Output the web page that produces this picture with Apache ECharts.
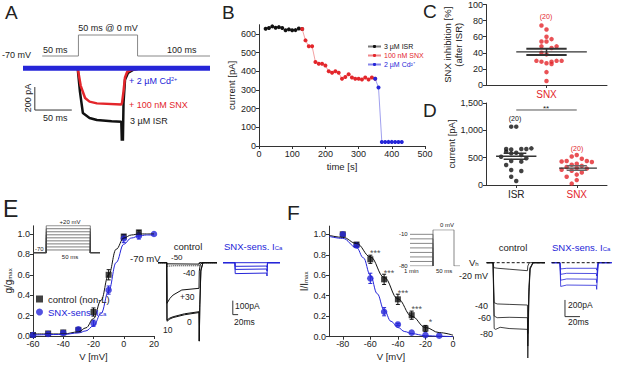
<!DOCTYPE html>
<html>
<head>
<meta charset="utf-8">
<script src="https://cdn.jsdelivr.net/npm/echarts@6/dist/echarts.min.js"></script>
<style>html,body{margin:0;padding:0;background:#fff}#main{width:617px;height:365px}</style>
</head>
<body>
<div id="main"></div>
<script>
var FONT = 'Arial, "Liberation Sans", sans-serif';
var BLUE = '#2525d8', RED = '#e3262b', DARK = '#222';

// ---- A: protocol + example traces (time in ms, current in pA)
var aProtoT = [26, 75, 75, 155, 155, 253];
var aProtoV = [-70, -70, 0, 0, -70, -70];
var aIsr = [[0,0],[74,0],[77,-200],[81,-389],[90,-432],[100,-450],[120,-460],[133,-465],[134,-700],[135,-700],[136,-300],[138,-100],[142,-40],[150,-10],[160,0],[253,0]];
var aSnx = [[0,0],[74,0],[78,-150],[84,-258],[90,-290],[100,-305],[133,-315],[134,-300],[136,-200],[138,-80],[141,-30],[148,-10],[160,0],[253,0]];
var aCd = [[0,0],[253,0]];
var aScale = [[16,-163],[16,-363],[66,-363]];

// ---- B: time course
var bTime = [20,30,40,50,60,70,80,90,100,110,120,130,140,150,160,170,180,190,200,210,220,230,240,250,260,270,280,290,300,310,320,330,340,350,360,370,380,390,400,410,420,430];
var bCurrent = [628,632,641,634,637,632,620,625,620,621,630,627,566,534,534,450,441,441,431,400,392,400,392,360,370,385,367,360,360,356,367,356,367,360,313,21,21,22,22,21,21,21];
var bNames = ['3 µM ISR', '100 nM SNX', '2 µM Cd²⁺'];

// ---- C: SNX inhibition (%)
var cJitter = [-1,0,0,1,-1,0,-1,2,1,-1,0,-2,-1,1,3,2,0,1,0,0];
var cValues = [74,69,60,57,54,54,48,48,46,40,38,30,29,29,30,30,27,26,16,5];
var cMean = 41.2, cSem = 3.8;

// ---- D: current amplitude (pA)
var dIsrJitter = [-1,0,-2,-1,1,2,3,-2,-1,0,1,-3,2,-1,1,-2,-1,1,-1,0];
var dIsrValues = [1067,1067,658,650,658,658,670,610,579,590,549,518,488,439,427,366,274,256,152,73];
var dSnxJitter = [12,11,13,10,14,9,15,12,11,13,10,12,14,9,11,13,12,10,12,11];
var dSnxValues = [549,520,480,440,440,430,420,390,370,350,330,310,300,280,260,230,190,150,90,25];
var dIsrMean = 526, dIsrSem = 55, dSnxMean = 310, dSnxSem = 40;

// ---- E: activation
var eV = [-60,-50,-40,-30,-20,-10,0,10,20];
var eCtrl = [0.01,0.025,0.035,0.06,0.235,0.60,0.975,1.015,null];
var eCtrlErr = [0,0,0,0,0.04,0.05,0.02,0.02,0];
var eSnx = [0.01,0.02,0.03,0.066,0.125,0.45,0.955,0.98,1.0];
var eSnxErr = [0,0,0,0.01,0.03,0.04,0.04,0.03,0];
var eFitV = [-60,-40,-30,-25,-20,-15,-10,-5,0,5,10,15,20];
var eFitCtrl = [0.02,0.02,0.04,0.08,0.17,0.35,0.60,0.85,0.96,0.99,1.0,1.0,1.0];
var eFitSnx = [0.01,0.015,0.03,0.05,0.10,0.22,0.44,0.72,0.90,0.96,0.98,0.99,0.99];
var eSteps = [-60,-50,-40,-30,-20,-10,0,10,20];
var eCtrlTraces = [
  [[0,0],[33,0],[34,-8],[155,-10],[156,0],[223,0]],
  [[0,0],[33,0],[34,-25],[60,-22],[155,-22],[157,0],[223,0]],
  [[0,0],[33,0],[34,-290],[45,-255],[57,-231],[90,-195],[155,-183],[156,-60],[160,-10],[170,0],[223,0]],
  [[0,0],[33,0],[34,-409],[45,-395],[57,-386],[100,-365],[155,-350],[156,-560],[158,-300],[162,-50],[170,0],[223,0]],
  [[0,0],[33,0],[34,-418],[45,-402],[57,-392],[100,-372],[155,-356],[156,-560],[158,-320],[162,-60],[170,0],[223,0]]
];
var eSnxTraces = [
  [[0,0],[215,0]],
  [[0,0],[45,0],[46,-26],[165,-24],[166,-32],[168,0],[215,0]],
  [[0,0],[45,0],[46,-48],[165,-45],[166,-60],[168,0],[215,0]],
  [[0,0],[45,0],[46,-78],[165,-74],[166,-95],[168,0],[215,0]]
];
var eScale = [[37,-271],[37,-371],[57,-371]];

// ---- F: inactivation
var fV = [-80,-70,-60,-50,-40,-30,-20,-10];
var fCtrl = [1.0,0.90,0.756,0.56,0.365,0.21,0.08,null];
var fCtrlErr = [0,0.02,0.04,0.05,0.05,0.04,0.03,0];
var fSnx = [1.0,0.89,0.57,0.244,0.12,0.04,0.016,0.01];
var fSnxErr = [0,0.02,0.05,0.04,0.01,0,0,0];
var fStars = ['','','***','***','***','***','*',''];
var fFitV = [-90,-80,-70,-60,-50,-40,-30,-20,-10,0];
var fFitCtrl = [0.99,0.97,0.91,0.78,0.58,0.37,0.20,0.09,0.04,0.015];
var fFitSnxV = [-90,-80,-70,-65,-60,-55,-50,-45,-40,-35,-30,-20,-10,0];
var fFitSnx = [0.98,0.96,0.87,0.77,0.60,0.42,0.26,0.15,0.09,0.05,0.03,0.01,0.005,0.0];
var fSteps = [-80,-70,-60,-50,-40,-30,-20,-10];
var fCtrlTraces = [
  [[0,0],[8.5,0],[9.5,-60],[15,-67],[30,-78],[54.5,-96],[55,-40],[57,0],[78,0]],
  [[0,0],[8.5,0],[10,-480],[14,-495],[30,-500],[54.5,-508],[55,-850],[56.5,-300],[58,-60],[62,0],[78,0]],
  [[0,0],[8.5,0],[10,-640],[14,-660],[30,-655],[54.5,-660],[55,-1000],[56.5,-350],[58,-70],[62,0],[78,0]],
  [[0,0],[8.5,0],[10,-790],[12,-800],[18,-775],[30,-790],[54.5,-800],[55,-1160],[56.5,-400],[58,-80],[62,0],[78,0]]
];
var fSnxTraces = [
  [[0,0],[11,0],[12,-75],[20,-67],[59.5,-67],[60,-90],[62,0],[80,0]],
  [[0,0],[11,0],[12,-140],[20,-127],[59.5,-130],[60,-160],[62,0],[80,0]],
  [[0,0],[11,0],[12,-210],[20,-195],[59.5,-198],[60,-240],[62,0],[80,0]],
  [[0,0],[11,0],[12,-285],[20,-268],[59.5,-272],[60,-320],[62,0],[80,0]]
];
var fScale = [[17.7,-447],[17.7,-647],[37.7,-647]];

var myChart = echarts.init(document.getElementById('main'), null, {renderer: 'svg'});

var axisLine = {onZero: false, lineStyle: {color: '#333', width: 1}};
var axisTick = {length: 3, lineStyle: {color: '#333'}};
var labelStyle = {fontSize: 9, color: DARK, fontFamily: FONT, margin: 3};

function hidden(grid, min, max) {
  return {type: 'value', gridIndex: grid, min: min, max: max, show: false};
}
function valAxis(grid, o) {
  var a = {type: 'value', gridIndex: grid, min: o.min, max: o.max, interval: o.interval,
    axisLine: axisLine, splitLine: {show: false},
    axisTick: Object.assign({}, axisTick, o.ticks ? {customValues: o.ticks} : {}),
    axisLabel: Object.assign({}, labelStyle, o.label || {}, o.ticks ? {customValues: o.ticks} : {}),
    name: o.name, nameLocation: 'middle', nameGap: o.gap,
    nameTextStyle: Object.assign({fontSize: 9.5, color: DARK, fontFamily: FONT}, o.nameStyle || {})
  };
  return a;
}
function pairs(xs, ys) {
  return xs.map(function (x, i) { return [x, ys[i]]; });
}
function line(ax, data, color, width, extra) {
  return Object.assign({type: 'line', xAxisIndex: ax, yAxisIndex: ax, data: data, symbol: 'none',
    silent: true, animation: false, lineStyle: {color: color, width: width}}, extra || {});
}
function errBars(ax, xs, ys, es, color) {
  var d = [];
  xs.forEach(function (x, i) { if (es[i] && ys[i] != null) d.push([x, ys[i] - es[i], ys[i] + es[i]]); });
  return {type: 'custom', xAxisIndex: ax, yAxisIndex: ax, data: d, silent: true, encode: {x: 0, y: [1, 2]},
    renderItem: function (p, api) {
      var lo = api.coord([api.value(0), api.value(1)]), hi = api.coord([api.value(0), api.value(2)]);
      var st = {stroke: color, lineWidth: 1};
      return {type: 'group', children: [
        {type: 'line', shape: {x1: lo[0], y1: lo[1], x2: hi[0], y2: hi[1]}, style: st},
        {type: 'line', shape: {x1: lo[0] - 2, y1: lo[1], x2: lo[0] + 2, y2: lo[1]}, style: st},
        {type: 'line', shape: {x1: hi[0] - 2, y1: hi[1], x2: hi[0] + 2, y2: hi[1]}, style: st}
      ]};
    }};
}
function txt(x, y, s, o) {
  o = o || {};
  return {type: 'text', x: x, y: y, rotation: o.rot || 0, silent: true, z: 100,
    style: {text: s, fill: o.color || DARK, fontSize: o.size || 9, fontFamily: FONT,
      align: o.align || 'left', verticalAlign: 'middle', rich: o.rich}};
}
function subRich(color, size) {
  return {s: {fontSize: size || 6, fill: color, color: color, fontFamily: FONT, verticalAlign: 'bottom', padding: [4, 0, 0, 0]}};
}

var grid = [
  {left: 23, top: 32, width: 187, height: 27},
  {left: 23, top: 56.8, width: 187, height: 82.8},
  {left: 259, top: 24.7, width: 166, height: 121.3},
  {left: 486, top: 4, width: 121, height: 81},
  {left: 486, top: 103, width: 121, height: 82},
  {left: 33, top: 225.8, width: 121, height: 110.2},
  {left: 33, top: 225.7, width: 67, height: 27.3},
  {left: 158, top: 257.1, width: 59, height: 85.4},
  {left: 223, top: 257.1, width: 57, height: 85.4},
  {left: 329, top: 226.1, width: 124, height: 110.6},
  {left: 410, top: 229.8, width: 50, height: 36.2},
  {left: 486.7, top: 257.7, width: 58.3, height: 100},
  {left: 551.7, top: 257.7, width: 60, height: 100}
];

var gTicks = [0, 0.2, 0.4, 0.6, 0.8, 1.0];
var xAxis = [
  hidden(0, 0, 253), hidden(1, 0, 253),
  valAxis(2, {min: 0, max: 500, interval: 100, name: 'time [s]', gap: 15}),
  valAxis(3, {min: -12, max: 12, ticks: [0], label: {formatter: function () { return 'SNX'; }, color: RED, fontSize: 10, margin: 4}}),
  valAxis(4, {min: -6, max: 18, ticks: [0, 12], label: {fontSize: 10, margin: 4,
    formatter: function (v) { return v === 0 ? '{k|ISR}' : '{r|SNX}'; },
    rich: {k: {color: DARK, fontSize: 10, fontFamily: FONT}, r: {color: RED, fontSize: 10, fontFamily: FONT}}}}),
  valAxis(5, {min: -60, max: 20, interval: 20, name: 'V [mV]', gap: 15}),
  hidden(6, 0, 76), hidden(7, 0, 223), hidden(8, 0, 215),
  valAxis(9, {min: -90, max: 0, ticks: [-80, -60, -40, -20, 0], name: 'V [mV]', gap: 15}),
  hidden(10, 0, 50), hidden(11, 0, 78), hidden(12, 0, 80)
];
var yAxis = [
  hidden(0, -80, 10), hidden(1, -620, 100),
  valAxis(2, {min: 0, max: 650, ticks: [0, 100, 200, 300, 400, 500, 600], name: 'current [pA]', gap: 23}),
  valAxis(3, {min: 0, max: 100, interval: 20, name: 'SNX inhibition [%]\n(after ISR)', gap: 14, nameStyle: {lineHeight: 11}}),
  valAxis(4, {min: 0, max: 1500, interval: 500, name: 'current [pA]', gap: 27}),
  valAxis(5, {min: 0, max: 1.08, ticks: gTicks, label: {formatter: function (v) { return v.toFixed(1); }},
    name: 'g/g{s|max}', gap: 20, nameStyle: {fontSize: 10, rich: subRich(DARK)}}),
  hidden(6, -70, 20), hidden(7, -570, 40), hidden(8, -570, 40),
  valAxis(9, {min: 0, max: 1.08, ticks: gTicks, label: {formatter: function (v) { return v.toFixed(1); }},
    name: 'I/I{s|max}', gap: 20, nameStyle: {fontSize: 10, rich: subRich(DARK)}}),
  hidden(10, -80, 0), hidden(11, -1140, 60), hidden(12, -1140, 60)
];

var series = [];
// A
series.push(line(0, pairs(aProtoT, aProtoV), '#888', 1));
series.push(line(1, aIsr, '#111', 2.5));
series.push(line(1, aSnx, RED, 2.5));
series.push(line(1, aCd, BLUE, 5));
series.push(line(1, aScale, '#333', 1));

// B
var bCols = ['#111', RED, BLUE];
var bCuts = [[0, 12], [11, 34], [33, 42]];
bCuts.forEach(function (c, k) {
  series.push({type: 'line', name: bNames[k], xAxisIndex: 2, yAxisIndex: 2,
    data: pairs(bTime.slice(c[0], c[1]), bCurrent.slice(c[0], c[1])),
    symbol: 'circle', symbolSize: 4, itemStyle: {color: bCols[k]},
    lineStyle: {color: bCols[k], width: 0.8, opacity: 0.55}, animation: false});
});

// C
series.push({type: 'scatter', xAxisIndex: 3, yAxisIndex: 3, data: pairs(cJitter, cValues),
  symbolSize: 4.5, itemStyle: {color: RED}, silent: true});
series.push(line(3, [[-6, cMean], [8, cMean]], '#333', 1.3));
series.push(line(3, [[-4, cMean + cSem], [4, cMean + cSem]], '#333', 2));
series.push(line(3, [[-4, cMean - cSem], [4, cMean - cSem]], '#333', 2));
series.push(line(3, [[0, cMean - cSem], [0, cMean + cSem]], '#333', 1.5));

// D
series.push({type: 'scatter', xAxisIndex: 4, yAxisIndex: 4, data: pairs(dIsrJitter, dIsrValues),
  symbolSize: 4.5, itemStyle: {color: '#111'}, silent: true});
series.push({type: 'scatter', xAxisIndex: 4, yAxisIndex: 4, data: pairs(dSnxJitter, dSnxValues),
  symbolSize: 4.5, itemStyle: {color: RED}, silent: true});
series.push(line(4, [[-4, dIsrMean], [4, dIsrMean]], '#333', 1.3));
series.push(line(4, [[-2.5, dIsrMean + dIsrSem], [2, dIsrMean + dIsrSem]], '#333', 1.5));
series.push(line(4, [[-2.5, dIsrMean - dIsrSem], [2, dIsrMean - dIsrSem]], '#333', 1.5));
series.push(line(4, [[8.5, dSnxMean], [16, dSnxMean]], '#333', 1.3));
series.push(line(4, [[10, dSnxMean + dSnxSem], [14, dSnxMean + dSnxSem]], '#666', 1.5));
series.push(line(4, [[10, dSnxMean - dSnxSem], [14, dSnxMean - dSnxSem]], '#666', 1.5));
series.push(line(4, [[0, 1372], [12, 1372]], '#555', 1));

// E inset protocol
eSteps.forEach(function (v) {
  series.push(line(6, [[0, -70], [15, -70], [15, v], [65, v], [65, -70], [76, -70]], '#444', 0.7));
});
// E traces
eCtrlTraces.forEach(function (tr, i) {
  series.push(line(7, tr, '#111', 1, i === 1 ? {lineStyle: {color: '#111', width: 1, type: 'dotted'}} : {}));
});
eSnxTraces.forEach(function (tr) { series.push(line(8, tr, BLUE, 1)); });
series.push(line(8, eScale, '#333', 1));
// E curves and points
series.push(line(5, pairs(eFitV, eFitCtrl), '#111', 1, {smooth: 0.4, smoothMonotone: 'x'}));
series.push(line(5, pairs(eFitV, eFitSnx), BLUE, 1, {smooth: 0.4, smoothMonotone: 'x'}));
series.push(errBars(5, eV, eCtrl, eCtrlErr, '#111'));
series.push(errBars(5, eV, eSnx, eSnxErr, BLUE));
series.push({type: 'scatter', name: 'control (non-L)', xAxisIndex: 5, yAxisIndex: 5,
  data: pairs(eV, eCtrl).filter(function (d) { return d[1] != null; }),
  symbol: 'rect', symbolSize: 6, itemStyle: {color: '#111'}, silent: true});
series.push({type: 'scatter', name: 'SNX-sens. ICa', xAxisIndex: 5, yAxisIndex: 5, data: pairs(eV, eSnx),
  symbol: 'circle', symbolSize: 6.5, itemStyle: {color: BLUE}, silent: true});

// F inset protocol
fSteps.forEach(function (v) {
  series.push(line(10, [[0, v], [23, v], [23, -80]], '#555', 0.7));
});
series.push(line(10, [[23, -80], [23, 0], [44, 0], [44, -80], [50, -80]], '#555', 0.7));
// F traces
series.push(line(11, [[0, 0], [78, 0]], '#111', 1, {lineStyle: {color: '#111', width: 1, type: [3, 2]}, z: 3}));
fCtrlTraces.forEach(function (tr) { series.push(line(11, tr, '#111', 0.8)); });
fSnxTraces.forEach(function (tr) { series.push(line(12, tr, BLUE, 0.8)); });
series.push(line(12, [[0, 0], [80, 0]], '#111', 1, {lineStyle: {color: '#111', width: 1, type: [3, 2]}, z: 3}));
series.push(line(12, fScale, '#333', 1));
// F curves and points
series.push(line(9, pairs(fFitV, fFitCtrl), '#111', 1, {smooth: 0.4, smoothMonotone: 'x'}));
series.push(line(9, pairs(fFitSnxV, fFitSnx), BLUE, 1, {smooth: 0.4, smoothMonotone: 'x'}));
series.push(errBars(9, fV, fCtrl, fCtrlErr, '#111'));
series.push(errBars(9, fV, fSnx, fSnxErr, BLUE));
series.push({type: 'scatter', xAxisIndex: 9, yAxisIndex: 9,
  data: pairs(fV, fCtrl).filter(function (d) { return d[1] != null; }),
  symbol: 'rect', symbolSize: 6, itemStyle: {color: '#111'}, silent: true});
series.push({type: 'scatter', xAxisIndex: 9, yAxisIndex: 9, data: pairs(fV, fSnx),
  symbol: 'circle', symbolSize: 6.5, itemStyle: {color: BLUE}, silent: true});
series.push({type: 'scatter', xAxisIndex: 9, yAxisIndex: 9, symbolSize: 0, silent: true, z: 5,
  data: pairs(fV, fCtrl).filter(function (d) { return d[1] != null; }),
  label: {show: true, position: 'top', distance: 5, offset: [5, 3], fontSize: 9, color: DARK, fontFamily: FONT,
    formatter: function (p) { return fStars[fV.indexOf(p.value[0])]; }}});

var graphic = [
  txt(5, 12, 'A', {size: 19}), txt(222, 12, 'B', {size: 19}),
  txt(423, 11, 'C', {size: 19}), txt(423, 110, 'D', {size: 19}),
  txt(3, 209, 'E', {size: 23}), txt(287, 212, 'F', {size: 21}),
  // A
  txt(2, 55, '-70 mV', {size: 9}), txt(43, 50, '50 ms', {size: 9}),
  txt(108, 28, '50 ms @ 0 mV', {size: 9, align: 'center'}), txt(167, 50, '100 ms', {size: 9}),
  txt(129, 81, '+ 2 µM Cd{sup|2+}', {size: 9, color: BLUE,
    rich: {sup: {fontSize: 5.5, fill: BLUE, verticalAlign: 'top', padding: [0, 0, 4, 0]}}}),
  txt(129, 105, '+ 100 nM SNX', {size: 9, color: RED}),
  txt(130, 121, '3 µM ISR', {size: 9}),
  txt(28, 98, '200 pA', {size: 9, align: 'center', rot: Math.PI / 2}),
  txt(43, 118, '50 ms', {size: 9}),
  // C, D
  txt(546, 16, '(20)', {size: 7, color: RED, align: 'center'}),
  txt(515, 118, '(20)', {size: 7, color: '#111', align: 'center'}),
  txt(577, 148, '(20)', {size: 7, color: RED, align: 'center'}),
  txt(546, 108, '**', {size: 8, align: 'center'}),
  // E inset and traces
  txt(70, 222, '+20 mV', {size: 6, align: 'center'}),
  txt(35, 249, '-70', {size: 6}), txt(70, 257, '50 ms', {size: 6, align: 'center'}),
  txt(130, 258, '-70 mV', {size: 9.5}), txt(171, 257, '-50', {size: 8}),
  txt(188, 246, 'control', {size: 9.5, align: 'center'}),
  txt(224, 246, 'SNX-sens. I{s|Ca}', {size: 9.5, color: BLUE, rich: subRich(BLUE)}),
  txt(183, 273, '-40', {size: 8.5}), txt(180, 297, '+30', {size: 8.5}),
  txt(187, 322, '0', {size: 8.5}), txt(163, 330, '10', {size: 8.5}),
  txt(235, 306, '100pA', {size: 8.5}), txt(234, 322, '20ms', {size: 8.5}),
  // F inset and traces
  txt(399, 234, '-10', {size: 6}), txt(399, 266, '-80', {size: 6}),
  txt(440, 225, '0 mV', {size: 6}), txt(404, 271, '1 min', {size: 6}), txt(436, 271, '50 ms', {size: 6}),
  txt(513, 247, 'control', {size: 9.5, align: 'center'}),
  txt(552, 247, 'SNX-sens. I{s|Ca}', {size: 9.5, color: BLUE, rich: subRich(BLUE)}),
  txt(469, 262, 'V{s|h}', {size: 9.5, rich: subRich(DARK)}),
  txt(459, 276, '-20 mV', {size: 9}),
  txt(475, 306, '-40', {size: 9}), txt(478, 318, '-60', {size: 9}), txt(480, 334, '-80', {size: 9}),
  txt(568, 305, '200pA', {size: 8.5}), txt(568, 322, '20ms', {size: 8.5})
];

var option = {
  animation: false,
  backgroundColor: '#fff',
  textStyle: {fontFamily: FONT},
  grid: grid,
  xAxis: xAxis,
  yAxis: yAxis,
  legend: [
    {orient: 'vertical', left: 362, top: 38, itemWidth: 13, itemHeight: 4, itemGap: 2,
      selectedMode: false, data: bNames.map(function (n, k) { return {name: n, textStyle: {color: bCols[k]}}; }),
      textStyle: {fontSize: 7, fontFamily: FONT, padding: [0, 0, 0, -2]}},
    {orient: 'vertical', left: 31, top: 289, itemWidth: 7, itemHeight: 7, itemGap: 3, selectedMode: false,
      data: [{name: 'control (non-L)', textStyle: {color: DARK}}, {name: 'SNX-sens. ICa', textStyle: {color: BLUE}}],
      formatter: function (n) { return n.replace('ICa', 'I{s|Ca}'); },
      textStyle: {fontSize: 9.5, fontFamily: FONT, rich: subRich(BLUE)}}
  ],
  graphic: graphic,
  series: series
};

myChart.setOption(option);
</script>
</body>
</html>
